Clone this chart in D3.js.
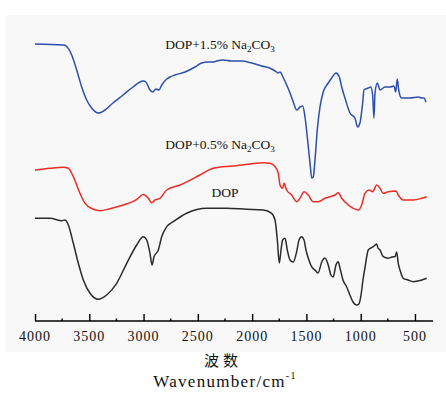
<!DOCTYPE html>
<html>
<head>
<meta charset="utf-8">
<script src="https://cdn.jsdelivr.net/npm/d3@7"></script>
<style>
  body { margin: 0; background: #fff; }
  svg { display: block; }
</style>
</head>
<body>
<svg width="446" height="396"></svg>
<script>
// wavenumbers (cm-1) and relative transmittance
var blueWn = [4000,3739,3714,3662,3616,3570,3524,3478,3417,3355,3282,3189,3097,3005,2978,2941,2916,2886,2858,2833,2787,2757,2711,2618,2526,2465,2407,2361,2326,2268,2188,2096,2004,1912,1820,1774,1762,1743,1716,1682,1651,1621,1590,1559,1534,1513,1492,1467,1451,1437,1421,1400,1375,1345,1299,1267,1228,1197,1175,1145,1099,1053,1028,1007,982,970,930,908,890,878,868,847,822,776,730,693,678,663,650,623,546,470,438,417,399];
var blueT  = [286,285,284,275,260,243,230,222,217,220,227,235,243,249,248,240,238,241,240,245,251,253,255,258,263,267,268,268,269,270,269,269,267,264,261,258,257,258,253,245,237,228,220,223,224,213,193,167,152,153,170,200,223,238,247,252,257,253,243,232,217,212,203,207,227,240,242,243,235,212,237,247,240,243,243,244,238,251,240,232,232,233,232,232,228];

var redWn = [4000,3862,3739,3693,3647,3586,3539,3463,3401,3309,3187,3063,3003,2956,2925,2895,2849,2787,2664,2480,2358,2174,2020,1897,1836,1789,1759,1743,1719,1707,1682,1636,1590,1559,1522,1483,1437,1391,1329,1283,1237,1207,1175,1114,1068,1022,991,961,921,890,853,822,792,746,675,654,608,516,438,392];
var redT  = [160,161.7,162.7,161.7,153.3,136.7,126.7,120.7,119.3,121.3,125,130.7,135.5,131.7,127.3,130,131.7,140,145,155,161.7,164,166,167.3,166.7,163.3,156.7,145,141.7,146.7,140,135,128.3,131.7,138.3,135,128.3,128.3,131.7,133.3,135,137.3,131.7,125,121.7,120,125,136.7,140,138.3,145,141.7,136.7,138.3,139,135,130,130,131.7,133.3];

var blackWn = [4000,3862,3754,3724,3693,3647,3601,3555,3493,3417,3340,3248,3155,3063,3003,2971,2941,2922,2904,2864,2833,2787,2726,2603,2419,2234,2050,1897,1820,1789,1768,1750,1734,1719,1697,1676,1651,1621,1590,1568,1544,1522,1504,1483,1452,1421,1393,1359,1329,1299,1274,1253,1228,1207,1191,1163,1129,1099,1071,1037,1016,997,979,961,930,905,884,853,841,822,792,746,712,684,669,654,638,608,564,516,472,436,392];
var blackT  = [111.7,111.7,109.3,110,105,86.7,66.7,50,36.7,30.7,35,46.7,66.7,85,93.3,90,76.7,65,73.3,80,93.3,103.3,108.3,116.7,121.7,121.7,120.7,120,116.7,110,90,67,80,90,91.7,80,70,68,78.3,90,93.3,90,80,72,63.3,60,57,68,72,65,55,53,65,68.3,62,50,43,35,28,25,26,35,50,62,80,82,83.3,86,82,80,73.3,71.7,73,73.3,78,66.7,60,51.7,50,48.3,49,50,51.7];

var seriesNames = ["DOP+1.5% Na2CO3", "DOP+0.5% Na2CO3", "DOP"];
var tickValues = [4000,3500,3000,2500,2000,1500,1000,500];
var minorTicks = [3750,3250,2750,2250,1750,1250,750];

var svg = d3.select("svg");

// light grey panel behind the plot
svg.append("rect")
    .attr("x", 6).attr("y", 15)
    .attr("width", 440).attr("height", 337)
    .attr("fill", "#f8f8f8");

var x = d3.scaleLinear().domain([4000, 334]).range([35, 433]);
var y = d3.scaleLinear().domain([0, 300]).range([330, 30]);

var line = d3.line()
    .x(function (d) { return x(d[0]); })
    .y(function (d) { return y(d[1]); })
    .curve(d3.curveMonotoneX);

function draw(wn, t, colour) {
    svg.append("path")
        .datum(d3.zip(wn, t))
        .attr("d", line)
        .attr("fill", "none")
        .attr("stroke", colour)
        .attr("stroke-width", 1.5)
        .attr("stroke-linejoin", "round");
}
draw(blackWn, blackT, "#2b2b2b");
draw(redWn, redT, "#ee2b25");
draw(blueWn, blueT, "#2c4fae");

// axis
var axisY = 321;
var axis = d3.axisTop(x)
    .tickValues(tickValues)
    .tickSize(7)
    .tickFormat("");
var g = svg.append("g")
    .attr("transform", "translate(0," + axisY + ")")
    .call(axis);
g.select(".domain").remove();
g.append("line")
    .attr("x1", 35).attr("x2", 433)
    .attr("stroke", "#000").attr("stroke-width", 1.6);
g.selectAll(".tick line").attr("stroke", "#000").attr("stroke-width", 1.4);

g.selectAll(".minor")
    .data(minorTicks)
    .enter()
    .append("line")
    .attr("x1", function (d) { return x(d); })
    .attr("x2", function (d) { return x(d); })
    .attr("y1", 0).attr("y2", -2.5)
    .attr("stroke", "#000").attr("stroke-width", 1.4);

svg.append("g")
    .selectAll("text")
    .data(tickValues)
    .enter()
    .append("text")
    .attr("x", function (d) { return x(d); })
    .attr("y", 341)
    .attr("text-anchor", "middle")
    .attr("font-family", "Liberation Serif, Times New Roman, serif")
    .attr("font-size", "14px")
    .attr("letter-spacing", "1px")
    .attr("fill", "#111")
    .text(function (d) { return d; });

// series labels with subscripts
function label(name, cx, by) {
    var t = svg.append("text")
        .attr("x", cx).attr("y", by)
        .attr("text-anchor", "middle")
        .attr("font-family", "Liberation Serif, Times New Roman, serif")
        .attr("font-size", "13.5px")
        .attr("fill", "#111");
    if (name.indexOf("Na2CO3") < 0) { t.text(name); return; }
    var base = name.replace("Na2CO3", "");
    t.append("tspan").text(base + "Na");
    t.append("tspan").attr("font-size", "9px").attr("dy", 3).text("2");
    t.append("tspan").attr("dy", -3).text("CO");
    t.append("tspan").attr("font-size", "9px").attr("dy", 3).text("3");
}
label(seriesNames[0], 220, 49);
label(seriesNames[1], 220, 149);
label(seriesNames[2], 225, 197);

// axis titles
svg.append("text")
    .attr("x", 223).attr("y", 366)
    .attr("text-anchor", "middle")
    .attr("font-family", "Noto Sans CJK SC, serif")
    .attr("font-size", "15px")
    .attr("letter-spacing", "4px")
    .attr("fill", "#111")
    .text("波数");

var wt = svg.append("text")
    .attr("x", 225).attr("y", 387)
    .attr("text-anchor", "middle")
    .attr("font-family", "Liberation Serif, Times New Roman, serif")
    .attr("font-size", "17px")
    .attr("letter-spacing", "1.3px")
    .attr("fill", "#111");
wt.append("tspan").text("Wavenumber/cm");
wt.append("tspan").attr("font-size", "10px").attr("dy", -8).text("-1");
</script>
</body>
</html>
